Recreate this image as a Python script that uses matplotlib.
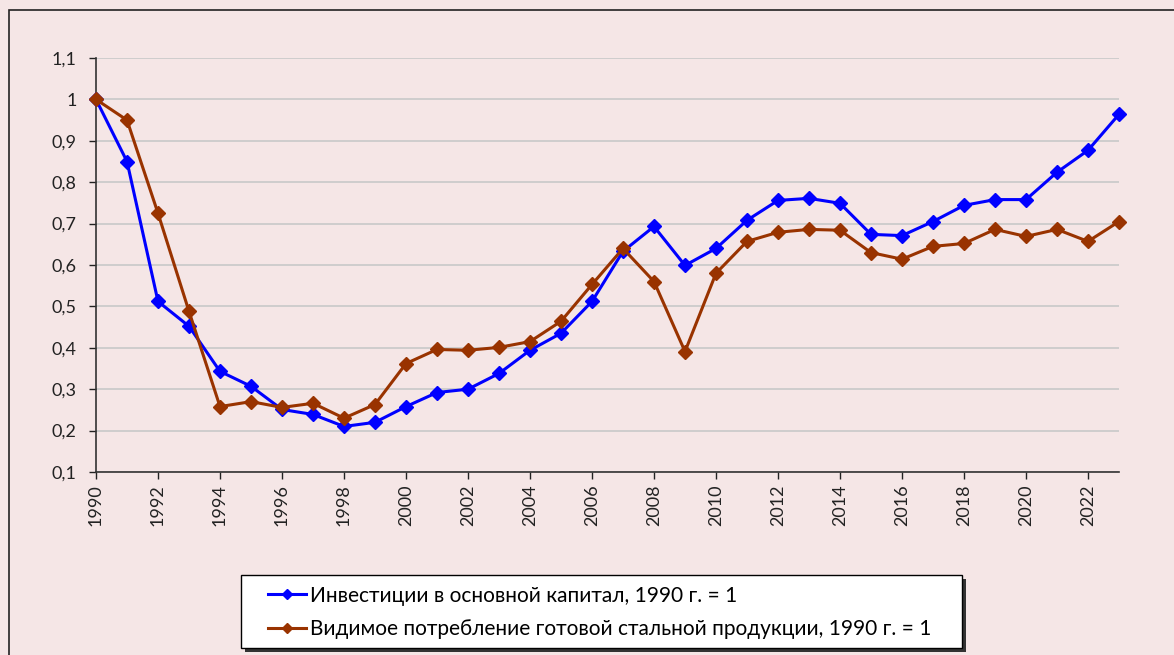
import matplotlib.pyplot as plt
import matplotlib.patches as patches
from matplotlib.ticker import FuncFormatter

plt.rcParams['font.family'] = ['Lato', 'Noto Sans', 'DejaVu Sans']

# Годы
years = list(range(1990, 2024))

# Инвестиции в основной капитал, 1990 г. = 1
investments = [1.0, 0.85, 0.512, 0.452, 0.343, 0.307, 0.251, 0.239, 0.21, 0.22,
               0.258, 0.292, 0.30, 0.338, 0.394, 0.435, 0.512, 0.633, 0.693, 0.599,
               0.64, 0.708, 0.756, 0.761, 0.749, 0.674, 0.671, 0.705, 0.744, 0.758,
               0.758, 0.824, 0.877, 0.964]

# Видимое потребление готовой стальной продукции, 1990 г. = 1
steel = [1.0, 0.95, 0.725, 0.488, 0.258, 0.27, 0.256, 0.266, 0.23, 0.263,
         0.362, 0.396, 0.394, 0.401, 0.415, 0.464, 0.553, 0.64, 0.56, 0.391,
         0.58, 0.657, 0.679, 0.686, 0.684, 0.630, 0.614, 0.645, 0.652, 0.686,
         0.669, 0.686, 0.657, 0.705]

label_inv = "Инвестиции в основной капитал, 1990 г. = 1"
label_steel = "Видимое потребление готовой стальной продукции, 1990 г. = 1"

W, H = 1174, 655
bg = "#F5E6E6"
fig = plt.figure(figsize=(W / 100, H / 100), dpi=100, facecolor=bg)
ax = fig.add_axes([96 / W, 1 - 472 / H, (1119 - 96) / W, (472 - 58) / H])
ax.set_facecolor(bg)

# Рамка вокруг диаграммы
frame = patches.Rectangle((9 / W, -0.2), 2, 0.2 + 1 - 10 / H, transform=fig.transFigure,
                          fill=False, edgecolor="#222222", linewidth=1.2, clip_on=False)
fig.patches.append(frame)

ax.plot(years, investments, color="#0000FF", linewidth=2.2, marker="D", markersize=7,
        label=label_inv, clip_on=False, zorder=3)
ax.plot(years, steel, color="#993300", linewidth=2.2, marker="D", markersize=7,
        label=label_steel, clip_on=False, zorder=4)

ax.set_xlim(1990, 2023)
ax.set_ylim(0.1, 1.1)
ax.set_yticks([0.1 * i for i in range(1, 12)])
ax.yaxis.set_major_formatter(FuncFormatter(lambda v, p: ("%.1f" % v).rstrip("0").rstrip(".").replace(".", ",")))
ax.set_xticks(list(range(1990, 2024, 2)))
ax.set_xticklabels([str(y) for y in range(1990, 2024, 2)], rotation=90)
ax.tick_params(axis="both", labelsize=13, colors="#222222", length=5, width=1)
ax.tick_params(axis="y", pad=9)
ax.tick_params(axis="x", pad=4)

ax.grid(axis="y", color="#C8C8C8", linewidth=1.2)
ax.set_axisbelow(True)
for side in ["top", "right"]:
    ax.spines[side].set_visible(False)
for side in ["left", "bottom"]:
    ax.spines[side].set_color("#333333")
    ax.spines[side].set_linewidth(1.2)

# Рамка легенды с тенью
lx0, ly0, lx1, ly1 = 241, 575, 962, 648
shadow = patches.Rectangle(((lx0 + 4) / W, 1 - (ly1 + 4) / H), (lx1 - lx0) / W, (ly1 - ly0) / H,
                           transform=fig.transFigure, facecolor="#333333", edgecolor="none")
box = patches.Rectangle((lx0 / W, 1 - ly1 / H), (lx1 - lx0) / W, (ly1 - ly0) / H,
                        transform=fig.transFigure, facecolor="white", edgecolor="black", linewidth=1.0)
fig.patches.extend([shadow, box])

leg = fig.legend(loc="center left", bbox_to_anchor=((lx0 + 27) / W, 1 - (ly0 + ly1 + 2) / 2 / H),
                 fontsize=15, frameon=False, markerscale=0.8, handlelength=1.8,
                 handletextpad=0.2, borderpad=0, labelspacing=0.65, borderaxespad=0)

plt.savefig("out.png", dpi=100, facecolor=bg)
